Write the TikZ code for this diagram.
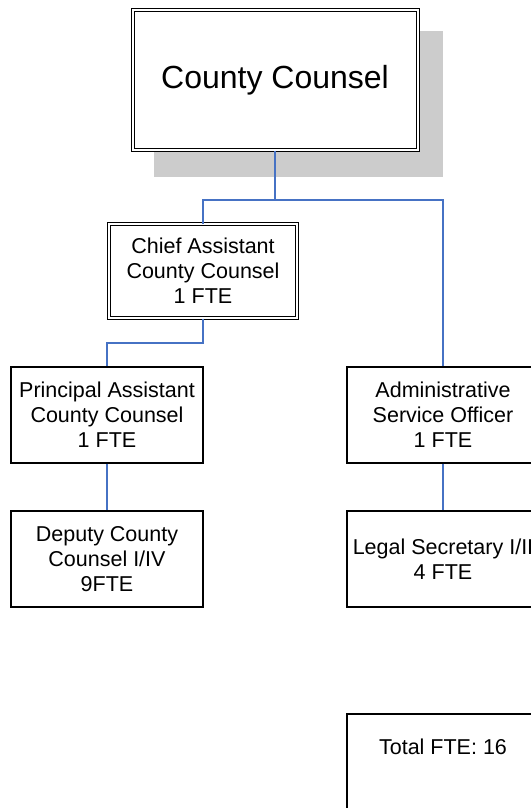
\documentclass[tikz,border=0pt]{standalone}
\usepackage{fontspec}
\setmainfont{Liberation Sans}
\definecolor{conn}{RGB}{70,114,196}
\definecolor{shadowgray}{RGB}{204,204,204}
\begin{document}
\begin{tikzpicture}[x=1pt,y=-1pt,
  orgbox/.style={draw=black, line width=1.2pt, fill=white, rectangle, inner sep=0pt,
    minimum width=192pt, minimum height=96pt, align=center,
    font=\fontsize{21.5}{25}\selectfont},
  dblbox/.style={draw=black, line width=1pt, double=white, double distance=2pt,
    fill=white, rectangle, inner sep=0pt, align=center,
    font=\fontsize{21.5}{25}\selectfont},
  link/.style={draw=conn, line width=1.3pt}
]
\useasboundingbox (0,0) rectangle (530,808);
% shadow of top box
\fill[shadowgray] (154,31) rectangle (443,177);
\node[dblbox, minimum width=285pt, minimum height=140pt, font=\fontsize{32}{38}\selectfont]
  (cc) at (275,80) {County Counsel};
\node[dblbox, minimum width=188pt, minimum height=94pt] (chief) at (203,271)
  {Chief Assistant\\County Counsel\\1 FTE};
\node[orgbox] (principal) at (107,415) {Principal Assistant\\County Counsel\\1 FTE};
\node[orgbox] (deputy) at (107,559) {Deputy County\\Counsel I/IV\\9FTE};
\node[orgbox] (admin) at (443,415) {Administrative\\Service Officer\\1 FTE};
\node[orgbox] (legal) at (443,559) {Legal Secretary I/II\\4 FTE};
\node[orgbox] (total) at (443,762) {};
\node[font=\fontsize{21.5}{25}\selectfont, inner sep=0pt] (totaltext) at (443,747) {Total FTE: 16};
\coordinate (j1) at (275,200);
\coordinate (j2) at (203,343);
\draw[link] (cc.south) -- (j1);
\draw[link] (chief.north) |- (j1) -| (admin.north);
\draw[link] (chief.south) -- (j2) -| (principal.north);
\draw[link] (principal.south) -- (deputy.north);
\draw[link] (admin.south) -- (legal.north);
\end{tikzpicture}
\end{document}
